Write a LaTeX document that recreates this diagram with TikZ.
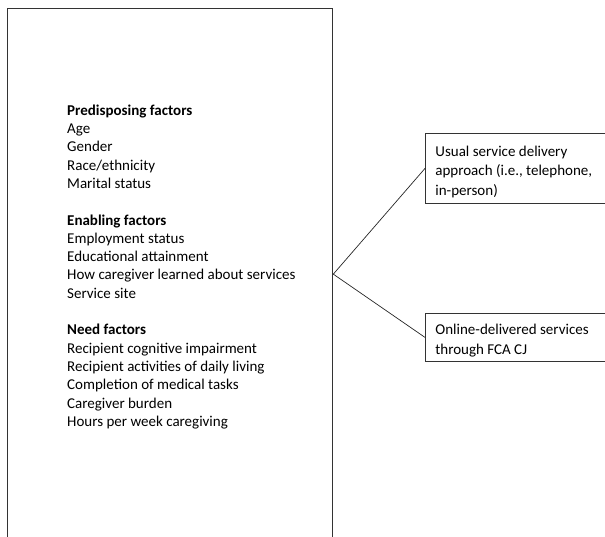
\documentclass[tikz,border=0pt]{standalone}
\usepackage{fontspec}
\setmainfont{Carlito}
\usetikzlibrary{positioning}

\tikzset{
  frame/.style={draw=black!80, line width=1.3pt},
  outcome/.style={draw=black!80, line width=0.8pt, anchor=north west,
    text width=172pt, minimum height=70pt, align=flush left,
    inner xsep=10pt, inner ysep=4pt, font=\fontsize{15}{19.5}\selectfont,
    execute at begin node={\rule{0pt}{17pt}}},
  link/.style={draw=black!85, line width=0.7pt}
}

\begin{document}
\begin{tikzpicture}[x=1pt, y=-1pt]
    \useasboundingbox (0,0) rectangle (605,537);
    \clip (0,0) rectangle (605,537);

    % big box on the left, runs off the page at the bottom
    \node[frame, anchor=north west, minimum width=325pt, minimum height=531pt] (factors) at (7,8) {};
    \node[anchor=north west, align=left, inner sep=0pt, font=\fontsize{15}{18.3}\selectfont] (list) at (67,104.5) {%
        \textbf{Predisposing factors}\\
        Age\\
        Gender\\
        Race/ethnicity\\
        Marital status\\[18.3pt]
        \textbf{Enabling factors}\\
        Employment status\\
        Educational attainment\\
        How caregiver learned about services\\
        Service site\\[18.3pt]
        \textbf{Need factors}\\
        Recipient cognitive impairment\\
        Recipient activities of daily living\\
        Completion of medical tasks\\
        Caregiver burden\\
        Hours per week caregiving};

    % the two outcome boxes on the right
    \node[outcome] (usual) at (425,133) {Usual service delivery approach (i.e., telephone, in-person)};
    \node[outcome, minimum height=48pt] (online) at (425,313) {Online-delivered services through FCA CJ};

    \draw[link] (factors.east) -- (usual.west);
    \draw[link] (factors.east) -- (online.west);
\end{tikzpicture}
\end{document}
